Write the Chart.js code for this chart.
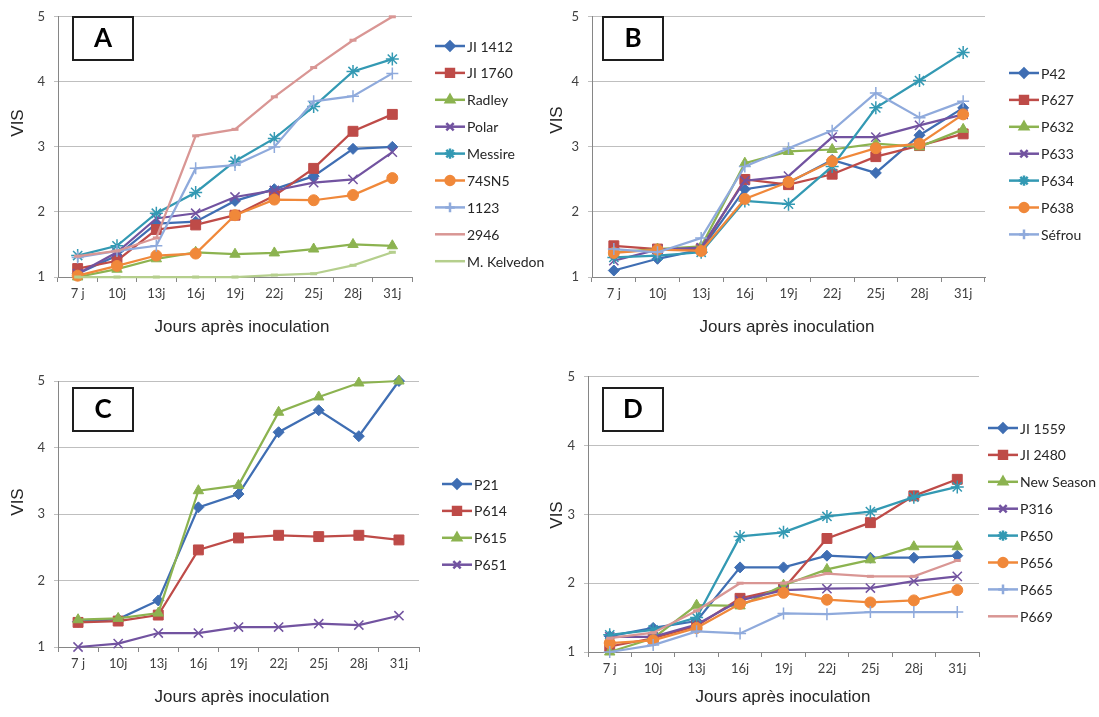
<!DOCTYPE html>
<html>
<head>
<meta charset="utf-8">
<script src="https://cdn.jsdelivr.net/npm/chart.js@4.4.0/dist/chart.umd.min.js"></script>
<style>
  html, body { margin: 0; padding: 0; background: #fff; }
  body { width: 1099px; height: 717px; position: relative; overflow: hidden; }
  canvas { position: absolute; }
</style>
</head>
<body>
<canvas id="cA" width="549" height="352" style="left:0;top:0"></canvas>
<canvas id="cB" width="550" height="352" style="left:549px;top:0"></canvas>
<canvas id="cC" width="549" height="357" style="left:0;top:360px"></canvas>
<canvas id="cD" width="550" height="357" style="left:549px;top:360px"></canvas>
<script>
// jours après inoculation
const jours = ['7 j', '10j', '13j', '16j', '19j', '22j', '25j', '28j', '31j'];
const titreY = 'VIS';
const titreX = 'Jours après inoculation';

// A
const nomsA = ['JI 1412', 'JI 1760', 'Radley', 'Polar', 'Messire', '74SN5', '1123', '2946', 'M. Kelvedon'];
const ji1412 = [1.05, 1.33, 1.82, 1.85, 2.17, 2.35, 2.55, 2.97, 3.0];
const ji1760 = [1.13, 1.25, 1.73, 1.80, 1.95, 2.25, 2.67, 3.24, 3.5];
const radley = [1.0, 1.12, 1.28, 1.38, 1.35, 1.37, 1.43, 1.50, 1.48];
const polar = [1.05, 1.38, 1.90, 1.98, 2.23, 2.33, 2.45, 2.50, 2.92];
const messire = [1.33, 1.48, 1.98, 2.30, 2.78, 3.13, 3.62, 4.16, 4.35];
const sn74 = [1.02, 1.17, 1.33, 1.36, 1.95, 2.19, 2.18, 2.26, 2.52];
const l1123 = [1.30, 1.40, 1.48, 2.67, 2.72, 3.0, 3.70, 3.78, 4.13];
const l2946 = [1.32, 1.40, 1.60, 3.17, 3.27, 3.77, 4.22, 4.64, 5.0];
const kelvedon = [1.0, 1.0, 1.0, 1.0, 1.0, 1.03, 1.05, 1.18, 1.38];

// B
const nomsB = ['P42', 'P627', 'P632', 'P633', 'P634', 'P638', 'Séfrou'];
const p42 = [1.10, 1.28, 1.42, 2.35, 2.45, 2.80, 2.60, 3.18, 3.60];
const p627 = [1.48, 1.43, 1.43, 2.50, 2.42, 2.58, 2.85, 3.02, 3.20];
const p632 = [1.38, 1.43, 1.47, 2.75, 2.93, 2.96, 3.05, 3.00, 3.27];
const p633 = [1.25, 1.42, 1.45, 2.48, 2.55, 3.15, 3.15, 3.33, 3.50];
const p634 = [1.30, 1.33, 1.38, 2.17, 2.12, 2.70, 3.60, 4.02, 4.45];
const p638 = [1.37, 1.42, 1.40, 2.20, 2.46, 2.78, 2.98, 3.05, 3.50];
const sefrou = [1.43, 1.38, 1.60, 2.70, 2.98, 3.25, 3.83, 3.45, 3.70];

// C
const nomsC = ['P21', 'P614', 'P615', 'P651'];
const p21 = [1.38, 1.42, 1.70, 3.10, 3.30, 4.23, 4.56, 4.17, 5.0];
const p614 = [1.37, 1.39, 1.48, 2.46, 2.64, 2.68, 2.66, 2.68, 2.61];
const p615 = [1.41, 1.43, 1.51, 3.35, 3.43, 4.53, 4.76, 4.97, 5.0];
const p651 = [1.0, 1.05, 1.21, 1.21, 1.30, 1.30, 1.35, 1.33, 1.47];

// D
const nomsD = ['JI 1559', 'JI 2480', 'New Season', 'P316', 'P650', 'P656', 'P665', 'P669'];
const ji1559 = [1.23, 1.35, 1.45, 2.23, 2.23, 2.40, 2.37, 2.37, 2.40];
const ji2480 = [1.08, 1.20, 1.38, 1.78, 1.92, 2.65, 2.88, 3.27, 3.51];
const newSeason = [1.0, 1.20, 1.68, 1.67, 1.97, 2.20, 2.34, 2.53, 2.53];
const p316 = [1.22, 1.22, 1.40, 1.75, 1.90, 1.92, 1.93, 2.03, 2.10];
const p650 = [1.25, 1.32, 1.50, 2.68, 2.74, 2.97, 3.04, 3.25, 3.40];
const p656 = [1.13, 1.17, 1.35, 1.70, 1.86, 1.76, 1.72, 1.75, 1.90];
const p665 = [1.0, 1.10, 1.30, 1.27, 1.56, 1.55, 1.58, 1.58, 1.58];
const p669 = [1.20, 1.28, 1.60, 2.0, 2.0, 2.14, 2.10, 2.10, 2.33];

// style des séries (ordre Excel)
const couleurs = ['#3F6EB3', '#BE4B48', '#8CB350', '#7253A0', '#3399B3', '#F0883A', '#8FAADC', '#D99694', '#B5CF8D'];
const marqueurs = ['rectRot', 'rect', 'triangle', 'crossRot', 'star', 'circle', 'cross', 'line', 'line'];
const rayons = [5.5, 7, 6, 6.5, 6.5, 5.5, 6, 3.5, 3.5];

const fontTick = { family: 'Lato', size: 13 };

function decor(cfg) {
  return {
    id: 'decor',
    afterDraw(chart) {
      const c = chart.ctx;
      c.save();
      // cadre avec la lettre
      const [bx, by] = cfg.box;
      c.fillStyle = '#fff';
      c.fillRect(bx, by, 60, 43);
      c.strokeStyle = '#1e1e1e';
      c.lineWidth = 2;
      c.strokeRect(bx, by, 60, 43);
      c.fillStyle = '#000';
      c.font = 'bold 26px Lato';
      c.textAlign = 'center';
      c.textBaseline = 'middle';
      c.fillText(cfg.lettre, bx + 30, by + 22);

      // titres des axes
      c.fillStyle = '#262626';
      c.font = '17px "Liberation Sans", Arial';
      c.fillText(titreX, cfg.xt[0], cfg.xt[1]);
      c.save();
      c.translate(cfg.yt[0], cfg.yt[1]);
      c.rotate(-Math.PI / 2);
      c.fillText(titreY, 0, 0);
      c.restore();

      // légende
      c.textAlign = 'left';
      c.font = '14px Lato';
      chart.data.datasets.forEach((d, i) => {
        const x = cfg.leg[0], y = cfg.leg[1] + i * 26.9;
        c.strokeStyle = d.borderColor;
        c.fillStyle = d.borderColor;
        c.lineWidth = 2.5;
        c.beginPath();
        c.moveTo(x, y);
        c.lineTo(x + 30, y);
        c.stroke();
        if (d.pointStyle !== 'line') {
          Chart.helpers.drawPoint(c, {
            pointStyle: d.pointStyle,
            radius: d.pointRadius * 0.8,
            borderWidth: d.pointBorderWidth,
            rotation: 0
          }, x + 15, y);
        }
        c.fillStyle = '#262626';
        c.fillText(d.label, x + 32, y + 1);
      });
      c.restore();
    }
  };
}

function tracer(id, noms, series, cfg) {
  const ctx = document.getElementById(id).getContext('2d');
  const datasets = series.map((vals, i) => ({
    label: noms[i],
    data: vals,
    borderColor: couleurs[i],
    backgroundColor: couleurs[i],
    borderWidth: 2.25,
    pointStyle: marqueurs[i],
    pointRadius: rayons[i],
    pointBorderWidth: ['crossRot', 'star', 'cross'].includes(marqueurs[i]) ? 1.5 : (marqueurs[i] === 'line' ? 3 : 1),
    pointBackgroundColor: couleurs[i],
    pointBorderColor: couleurs[i],
    tension: 0,
    clip: false,
    order: series.length - i
  }));

  new Chart(ctx, {
    type: 'line',
    data: { labels: jours, datasets: datasets },
    options: {
      responsive: false,
      animation: false,
      events: [],
      layout: { padding: { top: cfg.top, right: cfg.right, left: 0, bottom: 0 } },
      plugins: { legend: { display: false }, tooltip: { enabled: false } },
      scales: {
        x: {
          offset: true,
          afterFit: s => { s.height = cfg.xh; },
          grid: { offset: true, drawOnChartArea: false, drawTicks: true, tickLength: 5, color: '#868686' },
          border: { display: true, color: '#868686' },
          ticks: { font: fontTick, color: '#404040', padding: 4, maxRotation: 0 }
        },
        y: {
          min: 1,
          max: 5,
          afterFit: s => { s.width = cfg.yw; },
          grid: { color: '#BFBFBF', drawTicks: true, tickLength: 4 },
          border: { display: true, color: '#868686' },
          ticks: { stepSize: 1, font: { family: 'Lato', size: 13 }, color: '#404040', padding: 9 }
        }
      }
    },
    plugins: [decor(cfg)]
  });
}

tracer('cA', nomsA, [ji1412, ji1760, radley, polar, messire, sn74, l1123, l2946, kelvedon], {
  lettre: 'A', top: 10, right: 137, yw: 58, xh: 75,
  box: [73, 17], xt: [242, 327], yt: [18, 123], leg: [435, 46]
});
tracer('cB', nomsB, [p42, p627, p632, p633, p634, p638, sefrou], {
  lettre: 'B', top: 10, right: 114, yw: 43, xh: 75,
  box: [54, 17], xt: [238, 327], yt: [8, 120], leg: [460, 73]
});
tracer('cC', nomsC, [p21, p614, p615, p651], {
  lettre: 'C', top: 21, right: 130, yw: 58, xh: 70,
  box: [73, 28], xt: [242, 337], yt: [18, 142], leg: [442, 124]
});
tracer('cD', nomsD, [ji1559, ji2480, newSeason, p316, p650, p656, p665, p669], {
  lettre: 'D', top: 12, right: 120, yw: 39, xh: 65,
  box: [54, 28], xt: [234, 337], yt: [8, 155], leg: [439, 68]
});
</script>
</body>
</html>
